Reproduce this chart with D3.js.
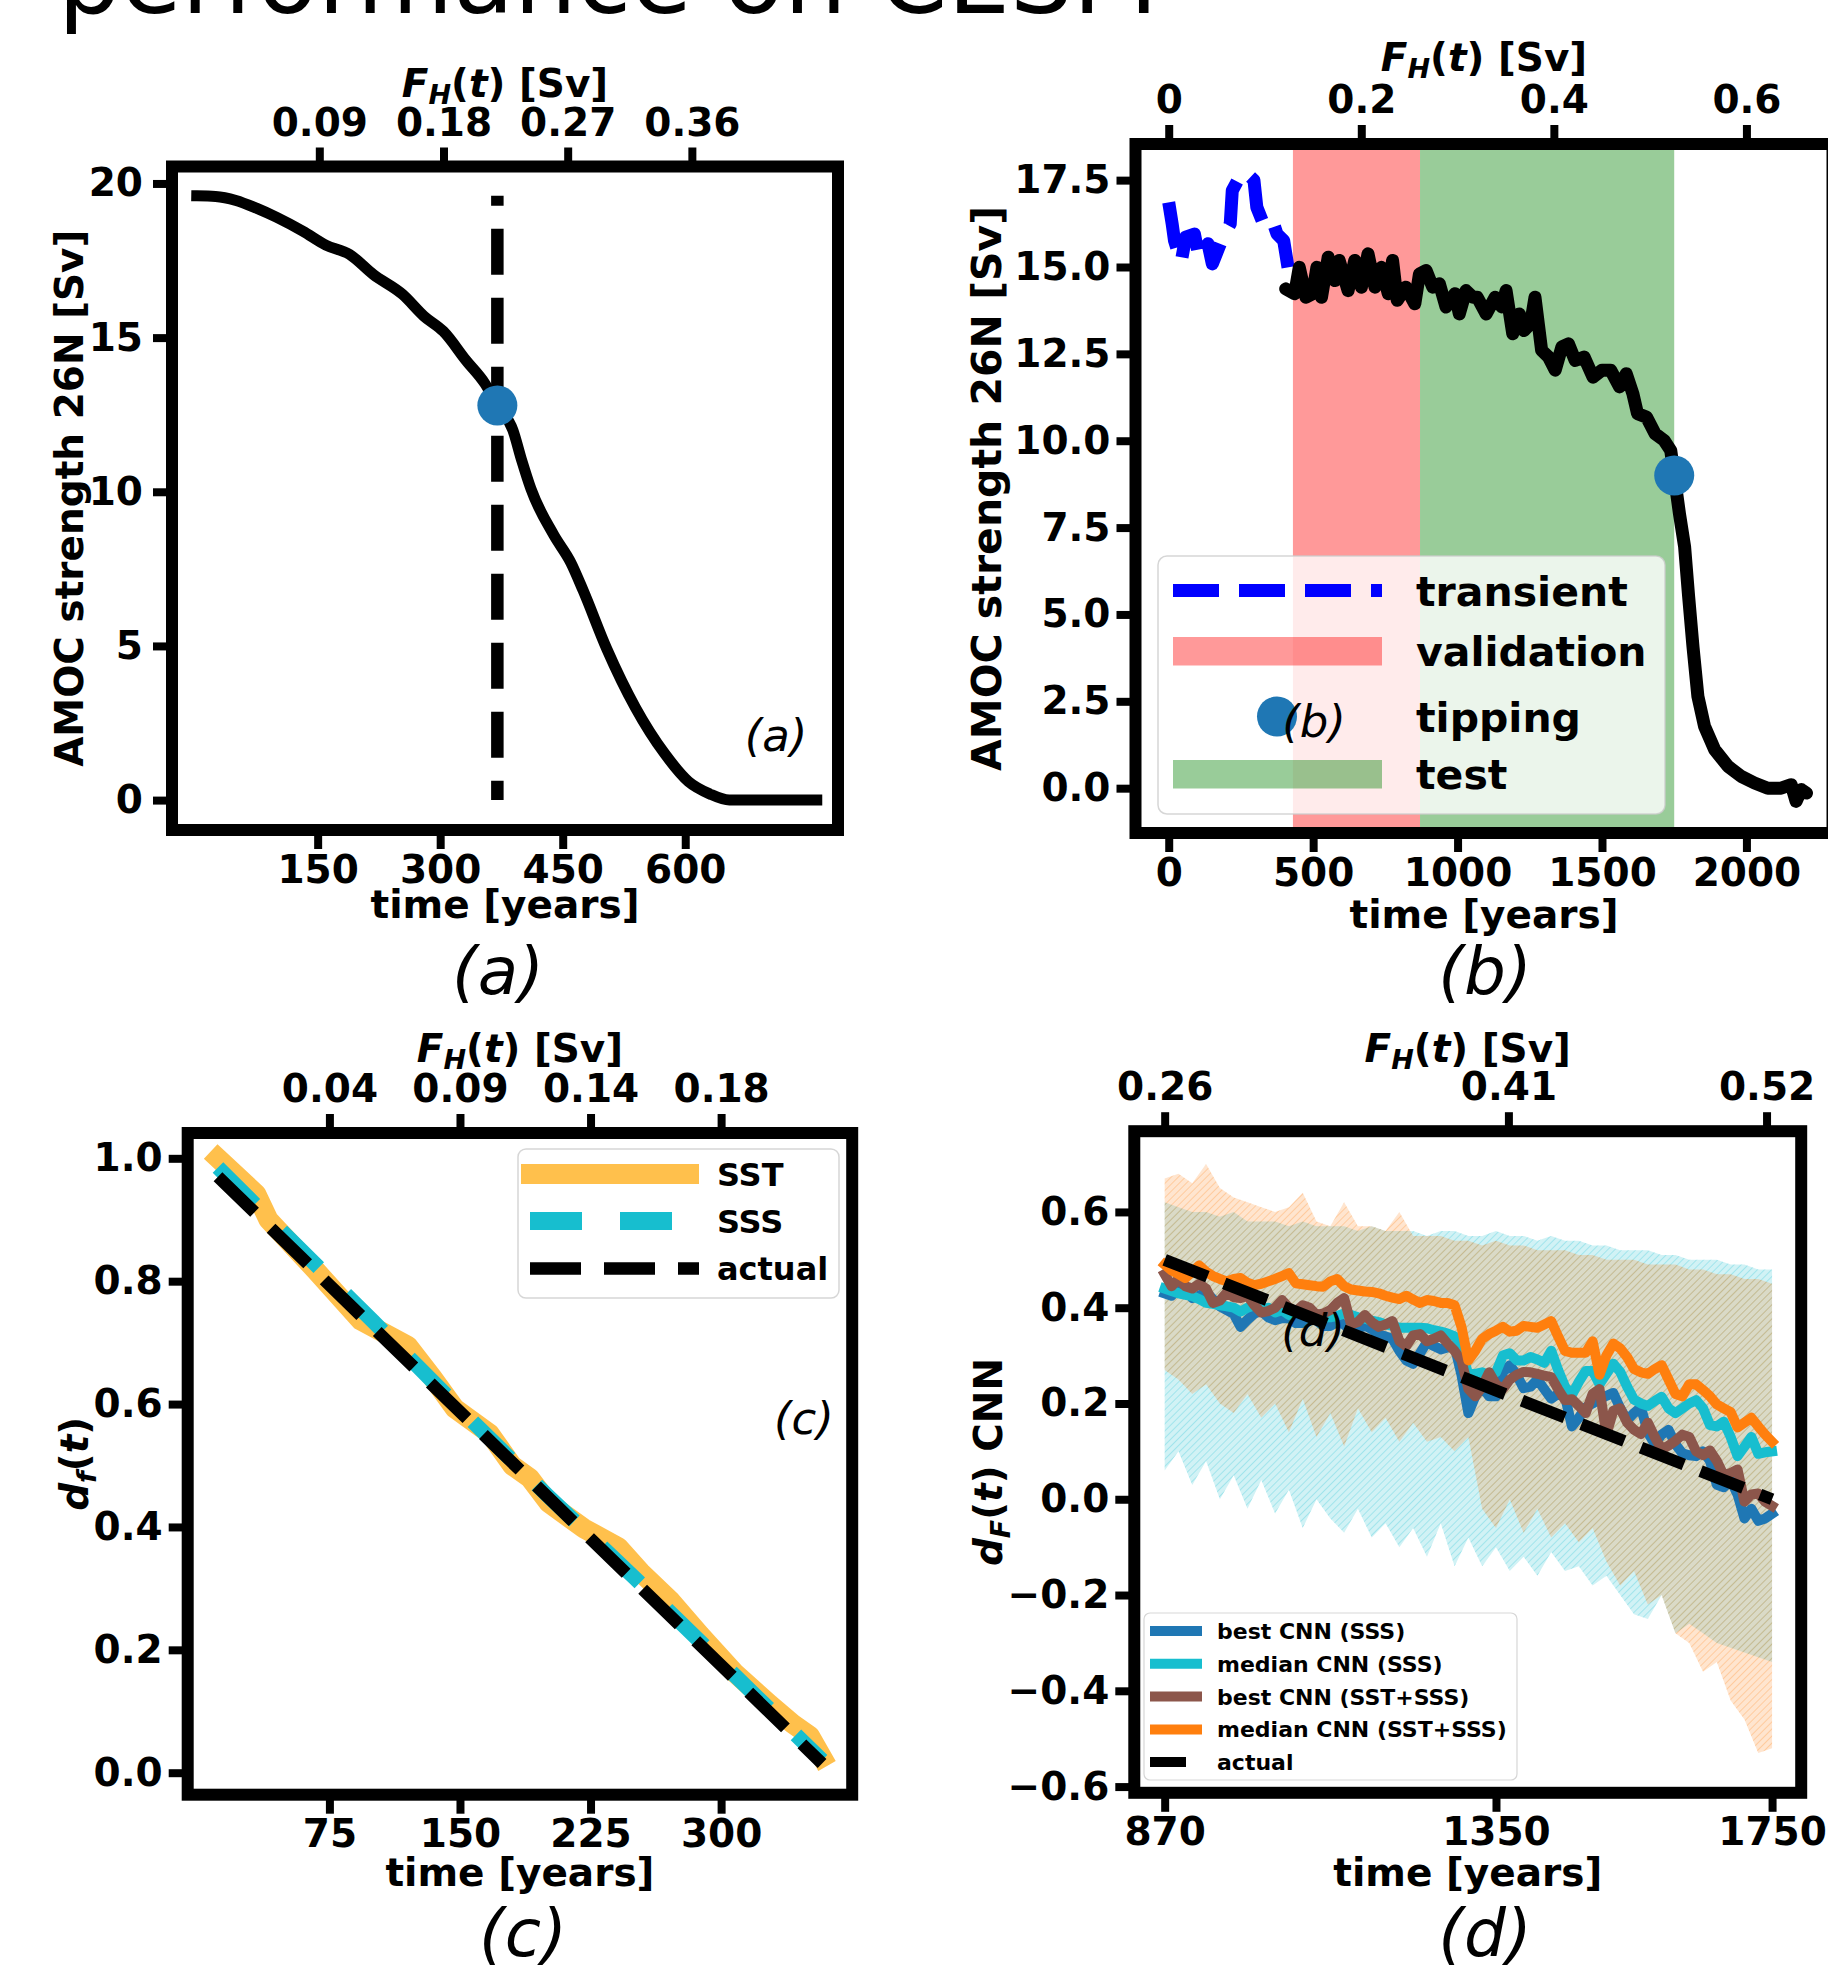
<!DOCTYPE html>
<html>
<head>
<meta charset="utf-8">
<script src="https://cdn.jsdelivr.net/npm/d3@7"></script>
<style>
  body { margin: 0; background: #fff; }
  text { font-family: "DejaVu Sans", sans-serif; }
</style>
</head>
<body>
<svg id="fig" width="1828" height="1968"></svg>
<script>
// ---------------- data: panel (a) ----------------
var timeA = [2, 25, 50, 75, 100, 132, 160, 189, 218, 254, 280, 304, 332, 355, 370, 389, 400, 411, 439, 460, 475, 504, 539, 575, 604, 630, 654, 761];
var amocA = [19.6, 19.58, 19.45, 19.2, 18.9, 18.45, 18.0, 17.7, 17.05, 16.4, 15.7, 15.2, 14.25, 13.5, 12.8, 12.0, 11.0, 10.1, 8.6, 7.7, 6.8, 4.9, 3.0, 1.5, 0.6, 0.2, 0.0, 0.0];
var tipTimeA = [370];
var tipAmocA = [12.8];
var xTicksA = [150, 300, 450, 600];
var yTicksA = [0, 5, 10, 15, 20];
var fTicksA = [0.09, 0.18, 0.27, 0.36];

// ---------------- data: panel (b) ----------------
var timeTransient = [0, 12, 20, 43, 59, 89, 105, 136, 151, 174, 190, 213, 220, 251, 267, 295, 305, 328, 359, 375, 398, 413];
var amocTransient = [16.86, 16.24, 15.76, 15.14, 15.86, 15.95, 15.28, 15.67, 15.09, 15.57, 15.9, 16.24, 17.2, 17.68, 17.72, 17.5, 16.72, 16.24, 16.34, 15.95, 15.76, 14.99];
var timeB = [405, 436, 452, 475, 498, 513, 529, 552, 575, 590, 621, 644, 667, 690, 714, 737, 760, 775, 791, 821,
             852, 868, 891, 914, 937, 960, 991, 1006, 1029, 1053, 1068, 1099, 1130, 1153, 1168, 1191, 1214, 1230, 1253, 1268,
             1291, 1315, 1338, 1361, 1384, 1407, 1438, 1469, 1500, 1530, 1561, 1584, 1607, 1623, 1654, 1684, 1715, 1738, 1750, 1768,
             1786, 1800, 1815, 1832, 1855, 1890, 1936, 1982, 2028, 2074, 2120, 2155, 2172, 2190, 2208];
var amocB = [14.37, 14.23, 14.99, 14.13, 14.23, 14.99, 14.13, 15.28, 14.61, 15.19, 14.32, 15.19, 14.42, 15.38, 14.42, 14.99, 14.23, 15.19, 14.04, 14.42,
             13.94, 14.8, 14.9, 14.42, 14.52, 13.85, 14.23, 13.65, 14.32, 14.13, 14.13, 13.65, 14.13, 13.85, 14.32, 13.08, 13.65, 13.17, 13.37, 14.13,
             12.6, 12.41, 12.03, 12.7, 12.79, 12.31, 12.41, 11.83, 12.03, 12.03, 11.55, 11.93, 11.35, 10.78, 10.68, 10.2, 10.01, 9.72, 9.0, 7.91,
             6.95, 5.51, 4.07, 2.64, 1.78, 1.11, 0.63, 0.34, 0.15, 0.0, 0.0, 0.1, -0.38, -0.04, -0.14];
var validationSpan = [430, 870];
var testSpan = [870, 1750];
var tipTimeB = [1750];
var tipAmocB = [9.0];
var xTicksB = [0, 500, 1000, 1500, 2000];
var yTicksB = [0, 2.5, 5, 7.5, 10, 12.5, 15, 17.5];
var fTicksB = [0, 0.2, 0.4, 0.6];

// ---------------- data: panel (c) ----------------
var timeSST = [11, 33, 40, 67, 93, 120, 134, 147, 167, 180, 190, 201, 221, 241, 254, 271, 288, 308, 328, 341, 351, 358];
var dfSST = [1.0, 0.942, 0.90, 0.818, 0.736, 0.695, 0.644, 0.593, 0.552, 0.50, 0.48, 0.439, 0.398, 0.367, 0.326, 0.28, 0.224, 0.162, 0.111, 0.08, 0.06, 0.025];
var timeSSS = [11, 50, 100, 150, 200, 250, 300, 358];
var dfSSS = [0.985, 0.875, 0.735, 0.592, 0.452, 0.318, 0.18, 0.02];
var timeActualC = [11, 358];
var dfActualC = [0.97, 0.015];
var xTicksC = [75, 150, 225, 300];
var topLabelsC = ["0.04", "0.09", "0.14", "0.18"];
var yTicksC = [0, 0.2, 0.4, 0.6, 0.8, 1.0];

// ---------------- data: panel (d) ----------------
var timeD = [870, 880, 890, 900, 910, 920, 930, 940, 950, 960,
             970, 980, 990, 1000, 1010, 1020, 1030, 1040, 1050, 1060,
             1070, 1080, 1090, 1100, 1110, 1120, 1130, 1140, 1150, 1160,
             1170, 1180, 1190, 1200, 1210, 1220, 1230, 1240, 1250, 1260,
             1270, 1280, 1290, 1300, 1310, 1320, 1330, 1340, 1350, 1360,
             1370, 1380, 1390, 1400, 1410, 1420, 1430, 1440, 1450, 1460,
             1470, 1480, 1490, 1500, 1510, 1520, 1530, 1540, 1550, 1560,
             1570, 1580, 1590, 1600, 1610, 1620, 1630, 1640, 1650, 1660,
             1670, 1680, 1690, 1700, 1710, 1720, 1730, 1740, 1750];
var bestSSS = [0.43, 0.425, 0.44, 0.44, 0.42, 0.425, 0.433, 0.418, 0.403, 0.395,
               0.387, 0.36, 0.375, 0.388, 0.393, 0.38, 0.374, 0.378, 0.378, 0.368,
               0.368, 0.377, 0.373, 0.362, 0.362, 0.37, 0.365, 0.352, 0.356, 0.363,
               0.355, 0.344, 0.34, 0.335, 0.31, 0.29, 0.283, 0.305, 0.328, 0.32,
               0.313, 0.317, 0.32, 0.26, 0.18, 0.215, 0.235, 0.215, 0.215, 0.265,
               0.28, 0.26, 0.232, 0.235, 0.25, 0.23, 0.21, 0.22, 0.215, 0.152,
               0.17, 0.192, 0.20, 0.209, 0.216, 0.222, 0.19, 0.165, 0.18, 0.192,
               0.14, 0.115, 0.135, 0.145, 0.115, 0.096, 0.092, 0.09, 0.10, 0.08,
               0.03, 0.025, 0.04, 0.01, -0.04, -0.02, -0.045, -0.04, -0.03];
var medianSSS = [0.44, 0.435, 0.43, 0.427, 0.424, 0.418, 0.41, 0.408, 0.405, 0.403,
                 0.40, 0.392, 0.40, 0.405, 0.395, 0.40, 0.39, 0.395, 0.385, 0.39,
                 0.394, 0.39, 0.383, 0.38, 0.38, 0.383, 0.388, 0.385, 0.38, 0.377,
                 0.373, 0.37, 0.365, 0.362, 0.358, 0.358, 0.358, 0.358, 0.357, 0.353,
                 0.35, 0.346, 0.34, 0.31, 0.26, 0.262, 0.265, 0.258, 0.265, 0.30,
                 0.305, 0.29, 0.29, 0.297, 0.292, 0.285, 0.31, 0.27, 0.235, 0.218,
                 0.245, 0.268, 0.268, 0.24, 0.262, 0.283, 0.266, 0.235, 0.208, 0.20,
                 0.195, 0.205, 0.214, 0.19, 0.18, 0.19, 0.20, 0.207, 0.19, 0.155,
                 0.152, 0.162, 0.13, 0.09, 0.11, 0.13, 0.095, 0.098, 0.10];
var bestBoth = [0.47, 0.445, 0.46, 0.445, 0.44, 0.45, 0.44, 0.41, 0.415, 0.432,
                0.422, 0.42, 0.425, 0.405, 0.39, 0.393, 0.40, 0.416, 0.40, 0.392,
                0.405, 0.40, 0.385, 0.388, 0.395, 0.41, 0.42, 0.365, 0.37, 0.385,
                0.37, 0.36, 0.365, 0.372, 0.33, 0.32, 0.342, 0.345, 0.33, 0.335,
                0.342, 0.325, 0.31, 0.29, 0.23, 0.215, 0.235, 0.265, 0.24, 0.23,
                0.25, 0.26, 0.266, 0.265, 0.262, 0.258, 0.255, 0.23, 0.207, 0.209,
                0.195, 0.18, 0.22, 0.23, 0.135, 0.185, 0.19, 0.16, 0.145, 0.136,
                0.16, 0.13, 0.104, 0.112, 0.122, 0.135, 0.13, 0.10, 0.092, 0.102,
                0.08, 0.05, 0.055, 0.062, -0.005, 0.01, 0.012, -0.005, -0.014];
var medianBoth = [0.49, 0.478, 0.47, 0.462, 0.475, 0.488, 0.475, 0.466, 0.46, 0.455,
                  0.46, 0.462, 0.452, 0.447, 0.45, 0.455, 0.46, 0.466, 0.472, 0.451,
                  0.449, 0.447, 0.445, 0.444, 0.455, 0.46, 0.445, 0.438, 0.436, 0.434,
                  0.433, 0.43, 0.425, 0.421, 0.418, 0.425, 0.417, 0.41, 0.416, 0.414,
                  0.41, 0.41, 0.405, 0.36, 0.29, 0.31, 0.335, 0.345, 0.352, 0.36,
                  0.35, 0.352, 0.362, 0.36, 0.358, 0.365, 0.372, 0.34, 0.31, 0.306,
                  0.306, 0.306, 0.33, 0.26, 0.30, 0.325, 0.315, 0.297, 0.272, 0.265,
                  0.262, 0.272, 0.28, 0.25, 0.22, 0.215, 0.24, 0.24, 0.228, 0.215,
                  0.198, 0.19, 0.182, 0.15, 0.16, 0.17, 0.152, 0.135, 0.12];
var timeActualD = [870, 1750];
var dfActualD = [0.5, 0.0];

var timeBand = [870, 890, 910, 930, 950, 970, 990, 1010, 1030, 1050,
                1070, 1090, 1110, 1130, 1150, 1170, 1190, 1210, 1230, 1250,
                1270, 1290, 1310, 1330, 1350, 1370, 1390, 1410, 1430, 1450,
                1470, 1490, 1510, 1530, 1550, 1570, 1590, 1610, 1630, 1650,
                1670, 1690, 1710, 1730, 1750];
var sssUpper = [0.62, 0.61, 0.60, 0.60, 0.59, 0.60, 0.58, 0.58, 0.58, 0.57,
                0.58, 0.57, 0.57, 0.57, 0.56, 0.57, 0.56, 0.56, 0.56, 0.55,
                0.56, 0.56, 0.55, 0.55, 0.56, 0.55, 0.55, 0.54, 0.55, 0.54,
                0.54, 0.53, 0.53, 0.52, 0.52, 0.52, 0.51, 0.51, 0.50, 0.50,
                0.50, 0.49, 0.49, 0.48, 0.48];
var sssLower = [0.06, 0.10, 0.03, 0.08, 0.00, 0.05, -0.02, 0.04, -0.03, 0.02,
                -0.06, 0.00, -0.04, -0.07, -0.02, -0.08, -0.05, -0.10, -0.06, -0.12,
                -0.05, -0.14, -0.08, -0.14, -0.10, -0.15, -0.12, -0.16, -0.11, -0.15,
                -0.14, -0.18, -0.16, -0.20, -0.24, -0.25, -0.20, -0.28, -0.26, -0.28,
                -0.30, -0.31, -0.32, -0.33, -0.34];
var bothUpper = [0.67, 0.68, 0.66, 0.70, 0.65, 0.63, 0.62, 0.61, 0.60, 0.61,
                 0.64, 0.58, 0.57, 0.62, 0.57, 0.57, 0.56, 0.60, 0.55, 0.55,
                 0.55, 0.54, 0.54, 0.53, 0.54, 0.53, 0.53, 0.52, 0.52, 0.52,
                 0.51, 0.51, 0.50, 0.50, 0.50, 0.49, 0.49, 0.49, 0.48, 0.48,
                 0.47, 0.47, 0.46, 0.46, 0.45];
var bothLower = [0.27, 0.25, 0.22, 0.24, 0.20, 0.18, 0.22, 0.17, 0.20, 0.14,
                 0.21, 0.13, 0.18, 0.11, 0.19, 0.14, 0.17, 0.12, 0.16, 0.12,
                 0.13, 0.10, 0.13, -0.02, -0.06, 0.00, -0.07, -0.02, -0.08, -0.05,
                 -0.09, -0.06, -0.13, -0.18, -0.15, -0.22, -0.20, -0.28, -0.30, -0.36,
                 -0.34, -0.42, -0.46, -0.53, -0.52];
var xTicksD = [870, 1350, 1750];
var topTicksD = [870, 1368, 1742];
var topLabelsD = ["0.26", "0.41", "0.52"];
var yTicksD = [-0.6, -0.4, -0.2, 0, 0.2, 0.4, 0.6];

// ---------------- setup ----------------
var FONT = "DejaVu Sans";
var svg = d3.select("#fig");
var defs = svg.append("defs");

// the big title line, cut at the top of the image
svg.append("text")
    .attr("x", 58)
    .attr("y", 13)
    .attr("font-size", 99)
    .text("performance on CESM");

function makePanel(b) {
    var x = d3.scaleLinear().domain(b.xDomain).range([b.left, b.right]);
    var y = d3.scaleLinear().domain(b.yDomain).range([b.bottom, b.top]);
    defs.append("clipPath").attr("id", "clip-" + b.name)
        .append("rect")
        .attr("x", b.left).attr("y", b.top)
        .attr("width", b.right - b.left).attr("height", b.bottom - b.top);
    var g = svg.append("g");
    var plot = g.append("g").attr("clip-path", "url(#clip-" + b.name + ")");
    return {b: b, x: x, y: y, g: g, plot: plot};
}

function styleAxis(a) {
    a.select(".domain").remove();
    a.selectAll(".tick line").attr("stroke", "#000").attr("stroke-width", 8);
    a.selectAll(".tick text")
        .attr("fill", "#000")
        .attr("font-size", 39)
        .attr("font-weight", "bold")
        .attr("font-family", FONT);
}

function drawAxes(P, cfg) {
    var b = P.b;
    var bottomAxis = P.g.append("g")
        .attr("transform", "translate(0," + b.bottom + ")")
        .call(d3.axisBottom(P.x).tickValues(cfg.xTicks).tickFormat(cfg.xFmt).tickSize(19).tickPadding(6));
    var leftAxis = P.g.append("g")
        .attr("transform", "translate(" + b.left + ",0)")
        .call(d3.axisLeft(P.y).tickValues(cfg.yTicks).tickFormat(cfg.yFmt).tickSize(19).tickPadding(cfg.yPad));
    var topAxis = P.g.append("g")
        .attr("transform", "translate(0," + b.top + ")")
        .call(d3.axisTop(cfg.topScale).tickValues(cfg.topTicks).tickFormat(cfg.topFmt).tickSize(19).tickPadding(12));
    [bottomAxis, leftAxis, topAxis].forEach(styleAxis);

    // frame
    P.g.append("rect")
        .attr("x", b.left).attr("y", b.top)
        .attr("width", b.right - b.left).attr("height", b.bottom - b.top)
        .attr("fill", "none").attr("stroke", "#000").attr("stroke-width", 12);

    var cx = (b.left + b.right) / 2;
    var cy = (b.top + b.bottom) / 2;

    // top label F_H(t) [Sv]
    var ft = P.g.append("text")
        .attr("x", cx).attr("y", cfg.topLabelY)
        .attr("text-anchor", "middle").attr("font-size", 39).attr("font-weight", "bold");
    ft.append("tspan").attr("font-style", "italic").text("F");
    ft.append("tspan").attr("font-style", "italic").attr("font-size", 27).attr("dy", 7).text("H");
    ft.append("tspan").attr("dy", -7).text("(");
    ft.append("tspan").attr("font-style", "italic").text("t");
    ft.append("tspan").text(") [Sv]");

    // x label
    P.g.append("text")
        .attr("x", cx).attr("y", cfg.xLabelY)
        .attr("text-anchor", "middle").attr("font-size", 39).attr("font-weight", "bold")
        .text("time [years]");

    // y label
    var yl = P.g.append("text")
        .attr("transform", "translate(" + cfg.yLabelX + "," + cy + ") rotate(-90)")
        .attr("text-anchor", "middle").attr("dy", "0.36em")
        .attr("font-size", cfg.yLabelSize).attr("font-weight", "bold");
    cfg.yLabel(yl);

    // caption below
    svg.append("text")
        .attr("x", cfg.captionX).attr("y", cfg.captionY)
        .attr("text-anchor", "middle").attr("font-size", 66).attr("font-style", "italic")
        .text(cfg.caption);

    // inner letter
    P.g.append("text")
        .attr("x", cfg.innerX).attr("y", cfg.innerY)
        .attr("text-anchor", "middle").attr("font-size", 45).attr("font-style", "italic")
        .text(cfg.caption);
}

function lineOf(P, ts, vs) {
    return d3.line().x(function(d, i) { return P.x(ts[i]); }).y(function(d) { return P.y(d); })(vs);
}

// ---------------- panel (a) ----------------
var A = makePanel({name: "a", left: 172, right: 838, top: 166.5, bottom: 830,
                   xDomain: [-28.3, 787], yDomain: [-0.97, 20.55]});
var fScaleA = d3.scaleLinear().domain([-28.3 * 0.000592, 787 * 0.000592]).range([172, 838]);

A.plot.append("path")
    .attr("d", d3.line().x(function(d, i) { return A.x(timeA[i]); }).y(function(d) { return A.y(d); })
        .curve(d3.curveMonotoneX)(amocA))
    .attr("fill", "none").attr("stroke", "#000").attr("stroke-width", 11)
    .attr("stroke-linejoin", "round").attr("stroke-linecap", "square");

// dashed tipping marker, drawn from the top down
A.plot.append("path")
    .attr("d", lineOf(A, [tipTimeA[0], tipTimeA[0]], [amocA[0], 0]))
    .attr("fill", "none").attr("stroke", "#000").attr("stroke-width", 12.5)
    .attr("stroke-dasharray", "46,23").attr("stroke-dashoffset", 36);

A.plot.selectAll("circle.tip").data(tipTimeA).enter().append("circle")
    .attr("cx", function(d) { return A.x(d); })
    .attr("cy", function(d, i) { return A.y(tipAmocA[i]); })
    .attr("r", 20).attr("fill", "#1f77b4");

drawAxes(A, {
    xTicks: xTicksA, xFmt: d3.format("d"),
    yTicks: yTicksA, yFmt: d3.format("d"), yPad: 10,
    topScale: fScaleA, topTicks: fTicksA, topFmt: d3.format(".2f"),
    topLabelY: 97, xLabelY: 918, yLabelX: 69, yLabelSize: 39,
    yLabel: function(t) { t.text("AMOC strength 26N [Sv]"); },
    caption: "(a)", captionX: 498, captionY: 994,
    innerX: 776, innerY: 751
});

// ---------------- panel (b) ----------------
var B = makePanel({name: "b", left: 1135.5, right: 1832.5, top: 144, bottom: 833,
                   xDomain: [-115, 2298], yDomain: [-1.29, 18.54]});
var fScaleB = d3.scaleLinear().domain([-115 * 0.0003, 2298 * 0.0003]).range([1135.5, 1832.5]);

B.plot.append("rect")
    .attr("x", B.x(validationSpan[0])).attr("y", 144)
    .attr("width", B.x(validationSpan[1]) - B.x(validationSpan[0])).attr("height", 833 - 144)
    .attr("fill", "#ff0000").attr("fill-opacity", 0.4);
B.plot.append("rect")
    .attr("x", B.x(testSpan[0])).attr("y", 144)
    .attr("width", B.x(testSpan[1]) - B.x(testSpan[0])).attr("height", 833 - 144)
    .attr("fill", "#008000").attr("fill-opacity", 0.4);

B.plot.append("path")
    .attr("d", lineOf(B, timeTransient, amocTransient))
    .attr("fill", "none").attr("stroke", "#0000ff").attr("stroke-width", 13)
    .attr("stroke-dasharray", "46,20").attr("stroke-linejoin", "round");

B.plot.append("path")
    .attr("d", lineOf(B, timeB, amocB))
    .attr("fill", "none").attr("stroke", "#000").attr("stroke-width", 13)
    .attr("stroke-linejoin", "round").attr("stroke-linecap", "round");

B.plot.selectAll("circle.tip").data(tipTimeB).enter().append("circle")
    .attr("cx", function(d) { return B.x(d); })
    .attr("cy", function(d, i) { return B.y(tipAmocB[i]); })
    .attr("r", 20).attr("fill", "#1f77b4");

// legend (b)
var legB = B.g.append("g");
legB.append("rect")
    .attr("x", 1158).attr("y", 556).attr("width", 507).attr("height", 258).attr("rx", 9)
    .attr("fill", "#fff").attr("fill-opacity", 0.8)
    .attr("stroke", "#cccccc").attr("stroke-opacity", 0.8).attr("stroke-width", 1.5);
legB.append("line")
    .attr("x1", 1173).attr("x2", 1382).attr("y1", 590.5).attr("y2", 590.5)
    .attr("stroke", "#0000ff").attr("stroke-width", 13).attr("stroke-dasharray", "46,20");
legB.append("rect")
    .attr("x", 1173).attr("y", 637).attr("width", 209).attr("height", 28.5)
    .attr("fill", "#ff0000").attr("fill-opacity", 0.4);
legB.append("circle")
    .attr("cx", 1277).attr("cy", 716.5).attr("r", 20).attr("fill", "#1f77b4");
legB.append("rect")
    .attr("x", 1173).attr("y", 760).attr("width", 209).attr("height", 28.5)
    .attr("fill", "#008000").attr("fill-opacity", 0.4);
var legBLabels = ["transient", "validation", "tipping", "test"];
var legBRows = [590.5, 651, 716.5, 774];
legB.selectAll("text.lab").data(legBLabels).enter().append("text")
    .attr("x", 1416).attr("y", function(d, i) { return legBRows[i] + 15; })
    .attr("font-size", 41).attr("font-weight", "bold")
    .text(function(d) { return d; });

drawAxes(B, {
    xTicks: xTicksB, xFmt: d3.format("d"),
    yTicks: yTicksB, yFmt: d3.format(".1f"), yPad: 6,
    topScale: fScaleB, topTicks: fTicksB, topFmt: function(d) { return d === 0 ? "0" : d.toFixed(1); },
    topLabelY: 71, xLabelY: 928, yLabelX: 986, yLabelSize: 41,
    yLabel: function(t) { t.text("AMOC strength 26N [Sv]"); },
    caption: "(b)", captionX: 1485, captionY: 994,
    innerX: 1314, innerY: 737
});

// ---------------- panel (c) ----------------
var C = makePanel({name: "c", left: 187.7, right: 852.2, top: 1133, bottom: 1794.7,
                   xDomain: [-6.4, 375.3], yDomain: [-0.0358, 1.0412]});

C.plot.append("path")
    .attr("d", lineOf(C, timeSST, dfSST))
    .attr("fill", "none").attr("stroke", "#ffa500").attr("stroke-opacity", 0.7).attr("stroke-width", 20)
    .attr("stroke-linejoin", "round").attr("stroke-linecap", "square");
C.plot.append("path")
    .attr("d", lineOf(C, timeSSS, dfSSS))
    .attr("fill", "none").attr("stroke", "#17becf").attr("stroke-width", 15)
    .attr("stroke-dasharray", "52,38");
C.plot.append("path")
    .attr("d", lineOf(C, timeActualC, dfActualC))
    .attr("fill", "none").attr("stroke", "#000").attr("stroke-width", 12.5)
    .attr("stroke-dasharray", "51,23");

var legC = C.g.append("g");
legC.append("rect")
    .attr("x", 518).attr("y", 1149).attr("width", 321).attr("height", 149).attr("rx", 8)
    .attr("fill", "#fff").attr("fill-opacity", 0.8)
    .attr("stroke", "#cccccc").attr("stroke-opacity", 0.8).attr("stroke-width", 1.5);
legC.append("line").attr("x1", 521).attr("x2", 699).attr("y1", 1174).attr("y2", 1174)
    .attr("stroke", "#ffa500").attr("stroke-opacity", 0.7).attr("stroke-width", 20);
legC.append("line").attr("x1", 530).attr("x2", 699).attr("y1", 1221).attr("y2", 1221)
    .attr("stroke", "#17becf").attr("stroke-width", 18).attr("stroke-dasharray", "52,38");
legC.append("line").attr("x1", 530).attr("x2", 699).attr("y1", 1268.5).attr("y2", 1268.5)
    .attr("stroke", "#000").attr("stroke-width", 12.5).attr("stroke-dasharray", "51,23");
var legCLabels = ["SST", "SSS", "actual"];
var legCRows = [1174, 1221, 1268.5];
legC.selectAll("text.lab").data(legCLabels).enter().append("text")
    .attr("x", 717).attr("y", function(d, i) { return legCRows[i] + 11.5; })
    .attr("font-size", 32).attr("font-weight", "bold")
    .text(function(d) { return d; });

drawAxes(C, {
    xTicks: xTicksC, xFmt: d3.format("d"),
    yTicks: yTicksC, yFmt: d3.format(".1f"), yPad: 6,
    topScale: C.x, topTicks: xTicksC, topFmt: function(d, i) { return topLabelsC[i]; },
    topLabelY: 1062, xLabelY: 1886, yLabelX: 74, yLabelSize: 39,
    yLabel: function(t) {
        t.append("tspan").attr("font-style", "italic").text("d");
        t.append("tspan").attr("font-style", "italic").attr("font-size", 27).attr("dy", 8).text("f");
        t.append("tspan").attr("dy", -8).text("(");
        t.append("tspan").attr("font-style", "italic").text("t");
        t.append("tspan").text(")");
    },
    caption: "(c)", captionX: 523, captionY: 1956,
    innerX: 804, innerY: 1434
});

// ---------------- panel (d) ----------------
var D = makePanel({name: "d", left: 1134.3, right: 1801.2, top: 1131.2, bottom: 1792.8,
                   xDomain: [826, 1792.2], yDomain: [-0.613, 0.7686]});

function hatch(id, color) {
    var pat = defs.append("pattern").attr("id", id)
        .attr("patternUnits", "userSpaceOnUse").attr("width", 5).attr("height", 5)
        .attr("patternTransform", "rotate(45)");
    pat.append("line").attr("x1", 0).attr("y1", 0).attr("x2", 0).attr("y2", 5)
        .attr("stroke", color).attr("stroke-width", 1.3).attr("stroke-opacity", 0.4);
}
hatch("hatch-sss", "#17becf");
hatch("hatch-both", "#ff7f0e");

function bandArea(lo, hi) {
    return d3.area()
        .x(function(d, i) { return D.x(timeBand[i]); })
        .y0(function(d, i) { return D.y(lo[i]); })
        .y1(function(d, i) { return D.y(hi[i]); })(timeBand);
}
[["#17becf", "hatch-sss", sssLower, sssUpper], ["#ff7f0e", "hatch-both", bothLower, bothUpper]].forEach(function(s) {
    var path = bandArea(s[2], s[3]);
    D.plot.append("path").attr("d", path).attr("fill", s[0]).attr("fill-opacity", 0.2);
    D.plot.append("path").attr("d", path).attr("fill", "url(#" + s[1] + ")");
});

var seriesD = [
    {name: "best CNN (SSS)", color: "#1f77b4", values: bestSSS},
    {name: "median CNN (SSS)", color: "#17becf", values: medianSSS},
    {name: "best CNN (SST+SSS)", color: "#8c564b", values: bestBoth},
    {name: "median CNN (SST+SSS)", color: "#ff7f0e", values: medianBoth}
];
seriesD.forEach(function(s) {
    D.plot.append("path")
        .attr("d", lineOf(D, timeD, s.values))
        .attr("fill", "none").attr("stroke", s.color).attr("stroke-width", 10)
        .attr("stroke-linejoin", "round").attr("stroke-linecap", "square");
});
D.plot.append("path")
    .attr("d", lineOf(D, timeActualD, dfActualD))
    .attr("fill", "none").attr("stroke", "#000").attr("stroke-width", 12)
    .attr("stroke-dasharray", "46,18");

var legD = D.g.append("g");
legD.append("rect")
    .attr("x", 1144).attr("y", 1613).attr("width", 373).attr("height", 167).attr("rx", 6)
    .attr("fill", "#fff").attr("fill-opacity", 0.8)
    .attr("stroke", "#cccccc").attr("stroke-opacity", 0.8).attr("stroke-width", 1.2);
var legDRows = [1631, 1663.8, 1696.6, 1729.4, 1762];
seriesD.forEach(function(s, i) {
    legD.append("line").attr("x1", 1150).attr("x2", 1202).attr("y1", legDRows[i]).attr("y2", legDRows[i])
        .attr("stroke", s.color).attr("stroke-width", 10);
    legD.append("text").attr("x", 1217).attr("y", legDRows[i] + 8)
        .attr("font-size", 22).attr("font-weight", "bold").text(s.name);
});
legD.append("line").attr("x1", 1150).attr("x2", 1202).attr("y1", legDRows[4]).attr("y2", legDRows[4])
    .attr("stroke", "#000").attr("stroke-width", 10).attr("stroke-dasharray", "36,16");
legD.append("text").attr("x", 1217).attr("y", legDRows[4] + 8)
    .attr("font-size", 22).attr("font-weight", "bold").text("actual");

drawAxes(D, {
    xTicks: xTicksD, xFmt: d3.format("d"),
    yTicks: yTicksD, yFmt: function(d) { return d < 0 ? "\u2212" + Math.abs(d).toFixed(1) : d.toFixed(1); }, yPad: 6,
    topScale: D.x, topTicks: topTicksD, topFmt: function(d, i) { return topLabelsD[i]; },
    topLabelY: 1062, xLabelY: 1886, yLabelX: 988, yLabelSize: 39,
    yLabel: function(t) {
        t.append("tspan").attr("font-style", "italic").text("d");
        t.append("tspan").attr("font-style", "italic").attr("font-size", 27).attr("dy", 8).text("F");
        t.append("tspan").attr("dy", -8).text("(");
        t.append("tspan").attr("font-style", "italic").text("t");
        t.append("tspan").text(") CNN");
    },
    caption: "(d)", captionX: 1485, captionY: 1956,
    innerX: 1313, innerY: 1346
});
</script>
</body>
</html>
